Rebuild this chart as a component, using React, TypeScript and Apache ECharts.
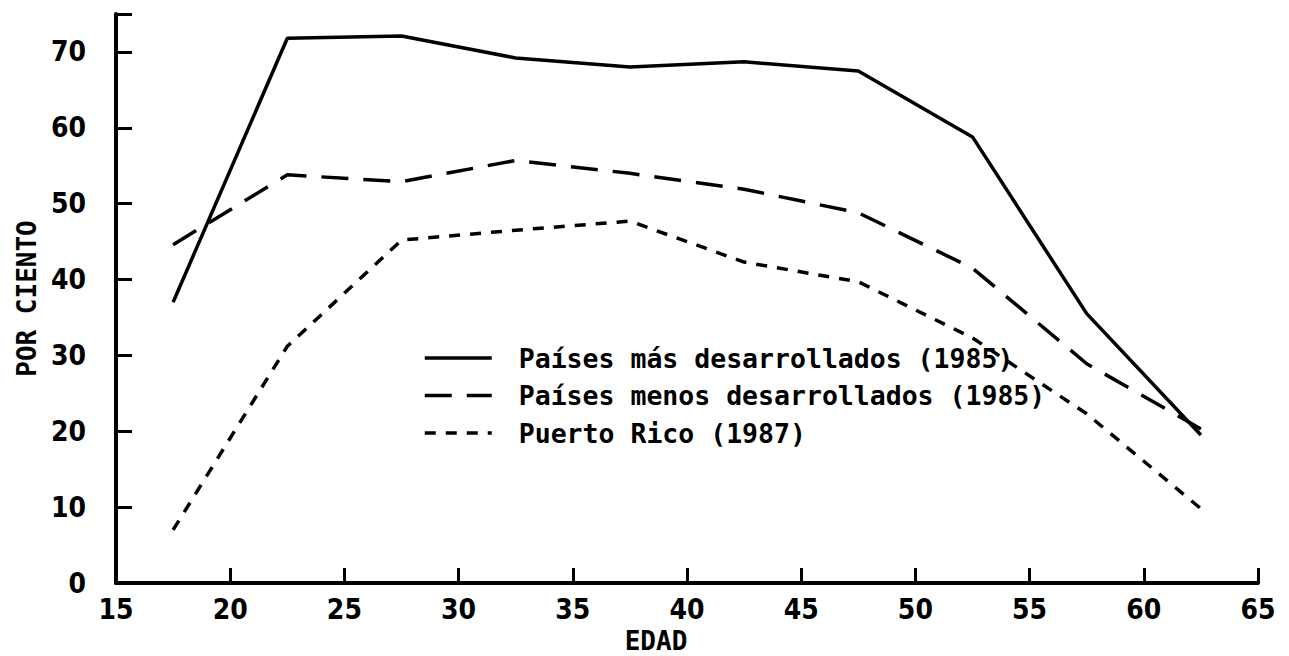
import React, { useEffect, useRef } from "react";
import * as echarts from "echarts";

const ages = [17.5, 22.5, 27.5, 32.5, 37.5, 42.5, 47.5, 52.5, 57.5, 62.5];
const masDesarrollados = [37.0, 71.8, 72.1, 69.2, 68.0, 68.7, 67.5, 58.8, 35.5, 19.5];
const menosDesarrollados = [44.6, 53.8, 52.9, 55.7, 54.0, 51.9, 48.8, 41.5, 28.9, 20.3];
const puertoRico = [7.0, 31.2, 45.2, 46.5, 47.7, 42.3, 39.7, 32.3, 22.3, 9.8];

const seriesNames = [
  "Países más desarrollados (1985)",
  "Países menos desarrollados (1985)",
  "Puerto Rico (1987)",
];
const yTickValues = [0, 10, 20, 30, 40, 50, 60, 70, 75];
const yLabelValues = [0, 10, 20, 30, 40, 50, 60, 70];

const SANS = "'Liberation Sans Narrow', 'DejaVu Sans Condensed', 'Liberation Sans', sans-serif";
const MONO = "'DejaVu Sans Mono', 'Liberation Mono', monospace";

const pairs = (ys: number[]) => ages.map((a, i) => [a, ys[i]]);

export default function App() {
  const ref = useRef<HTMLDivElement>(null);
  useEffect(() => {
    if (!ref.current) return;
    const chart = echarts.init(ref.current, null, { renderer: "svg" });
    const lineSeries = (name: string, ys: number[], type: any) => ({
      name,
      type: "line",
      data: pairs(ys),
      symbol: "none",
      lineStyle: { color: "#000", width: 3.5, type },
      itemStyle: { color: "#000" },
    });
    chart.setOption({
      animation: false,
      backgroundColor: "#fff",
      grid: {
        left: 116,
        right: 31,
        top: 14,
        bottom: 73,
        containLabel: false,
        outerBoundsMode: "none",
      },
      legend: {
        orient: "vertical",
        left: 423,
        top: 343,
        padding: 0,
        itemWidth: 67,
        itemHeight: 30,
        itemGap: 7.5,
        selectedMode: false,
        data: seriesNames,
        itemStyle: { opacity: 0, borderWidth: 0 },
        lineStyle: { width: 3.5 },
        textStyle: {
          fontFamily: MONO,
          fontWeight: "bold",
          fontSize: 26.5,
          color: "#000",
          padding: [0, 0, 0, 22],
          lineHeight: 30,
        },
      },
      xAxis: {
        type: "value",
        min: 15,
        max: 65,
        interval: 5,
        name: "EDAD",
        nameLocation: "middle",
        nameGap: 45,
        nameTextStyle: {
          fontFamily: MONO,
          fontWeight: "bold",
          fontSize: 26,
          color: "#000",
          padding: [0, 62, 0, 0],
        },
        axisLine: { show: true, lineStyle: { color: "#000", width: 4 } },
        axisTick: { show: true, inside: true, length: 15, lineStyle: { color: "#000", width: 3 } },
        axisLabel: {
          margin: 12,
          fontFamily: SANS,
          fontWeight: "bold",
          fontSize: 28,
          color: "#000",
        },
        splitLine: { show: false },
      },
      yAxis: {
        type: "value",
        min: 0,
        max: 75,
        interval: 10,
        name: "POR CIENTO",
        nameLocation: "middle",
        nameGap: 76,
        nameRotate: 90,
        nameTextStyle: {
          fontFamily: MONO,
          fontWeight: "bold",
          fontSize: 26,
          color: "#000",
        },
        axisLine: { show: true, lineStyle: { color: "#000", width: 4 } },
        axisTick: {
          show: true,
          inside: true,
          length: 16,
          customValues: yTickValues,
          lineStyle: { color: "#000", width: 3 },
        },
        axisLabel: {
          margin: 30,
          customValues: yLabelValues,
          fontFamily: SANS,
          fontWeight: "bold",
          fontSize: 28,
          color: "#000",
        },
        splitLine: { show: false },
      },
      series: [
        lineSeries(seriesNames[0], masDesarrollados, "solid"),
        lineSeries(seriesNames[1], menosDesarrollados, [27, 15]),
        lineSeries(seriesNames[2], puertoRico, [11, 10]),
      ],
    });
    return () => chart.dispose();
  }, []);
  return (
    <div
      ref={ref}
      style={{ position: "absolute", left: 0, top: 0, width: 1289, height: 656, background: "#fff" }}
    />
  );
}
